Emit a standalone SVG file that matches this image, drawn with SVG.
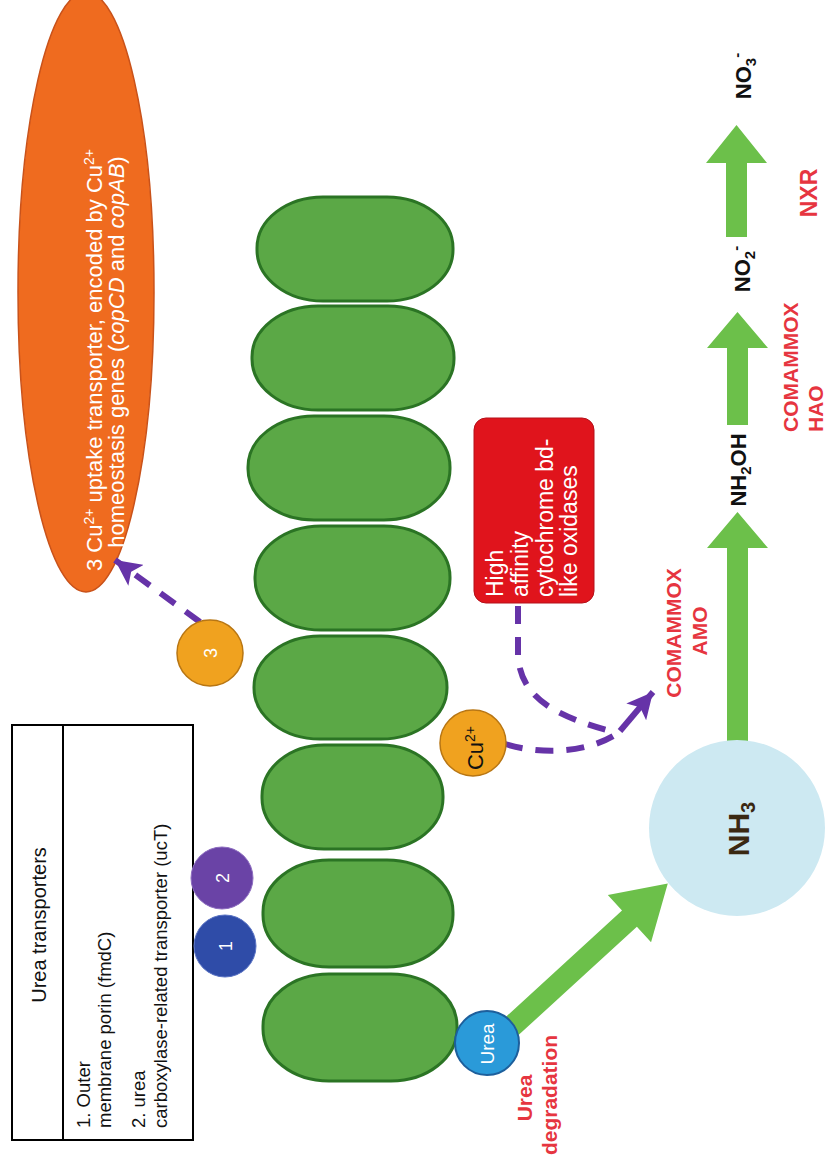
<svg xmlns="http://www.w3.org/2000/svg" width="827" height="1176" viewBox="0 0 827 1176">
<defs>
<style>
text{font-family:"Liberation Sans",Arial,sans-serif;}
.pill{fill:#5ba846;stroke:#2b7424;stroke-width:3;}
.garrow{fill:#6cc04a;}
.dash{fill:none;stroke:#6633a8;stroke-width:6;stroke-dasharray:18 13;}
.red{fill:#e63540;font-weight:bold;font-size:21px;}
.wt{fill:#ffffff;}
.blk{fill:#111111;}
</style>
<marker id="ph" viewBox="0 0 26 26" refX="26" refY="13" markerWidth="26" markerHeight="26" orient="auto" markerUnits="userSpaceOnUse">
<path d="M0,0 L26,13 L0,26 L6,13 z" fill="#6633a8"/>
</marker>
</defs>
<rect width="827" height="1176" fill="#ffffff"/>

<g id="ellipse-cu-transporter">
<ellipse cx="86" cy="292" rx="68" ry="300" fill="#ef6b1f" stroke="#c9521a" stroke-width="1.5"/>
<text class="wt" font-size="22" text-anchor="middle" transform="translate(102,360) rotate(-90)">3 Cu<tspan dy="-8" font-size="14">2+</tspan><tspan dy="8">  uptake transporter, encoded by Cu</tspan><tspan dy="-8" font-size="14">2+</tspan></text>
<text class="wt" font-size="22" text-anchor="middle" transform="translate(124,352) rotate(-90)">homeostasis genes (<tspan font-style="italic">copCD</tspan> and <tspan font-style="italic">copAB</tspan>)</text>
</g>

<g id="table-urea-transporters">
<rect x="12" y="725" width="181" height="415" fill="#ffffff" stroke="#000000" stroke-width="2"/>
<line x1="63" y1="725" x2="63" y2="1140" stroke="#000000" stroke-width="2"/>
<text class="blk" font-size="20" text-anchor="middle" transform="translate(46,925) rotate(-90)">Urea transporters</text>
<text class="blk" font-size="18.5" transform="translate(90,1128) rotate(-90)">1. Outer</text>
<text class="blk" font-size="18.5" transform="translate(111,1128) rotate(-90)">membrane porin (fmdC)</text>
<text class="blk" font-size="18.5" transform="translate(145,1128) rotate(-90)">2. urea</text>
<text class="blk" font-size="18.5" transform="translate(167,1128) rotate(-90)">carboxylase-related transporter (ucT)</text>
</g>

<g id="membrane">
<rect class="pill" x="257" y="197" width="196" height="104" rx="66" ry="51"/>
<rect class="pill" x="252" y="306" width="202" height="104" rx="66" ry="51"/>
<rect class="pill" x="248" y="416" width="202" height="104" rx="66" ry="51"/>
<rect class="pill" x="255" y="526" width="195" height="104" rx="66" ry="51"/>
<rect class="pill" x="254" y="636" width="193" height="103" rx="66" ry="51"/>
<rect class="pill" x="262" y="745" width="181" height="104" rx="62" ry="51"/>
<rect class="pill" x="263" y="860" width="190" height="107" rx="66" ry="52"/>
<rect class="pill" x="263" y="974" width="194" height="107" rx="66" ry="52"/>
</g>

<g id="connectors">
<path class="dash" d="M200,622 L115,560" marker-end="url(#ph)"/>
<path class="dash" d="M518,606 L518,655 C520,700 560,718 618,733"/>
<path class="dash" d="M505,744 C545,756 590,752 618,733"/>
<path d="M620,731 L653,692" stroke="#6633a8" stroke-width="6" fill="none" marker-end="url(#ph)"/>
<polygon class="garrow" transform="translate(510,1028) rotate(-42.5)" points="0,-11 162,-11 162,-32 214,0 162,32 162,11 0,11"/>
<polygon class="garrow" points="727,745 727,548 707,548 737.5,512 768,548 748,548 748,745"/>
<polygon class="garrow" points="727,425 727,348 707,348 737.5,312 768,348 748,348 748,425"/>
<polygon class="garrow" points="726,237 726,163 706,163 736.5,125 767,163 747,163 747,237"/>
</g>

<g id="circle-1">
<circle cx="225" cy="946" r="31" fill="#2f4ca8" stroke="#5b74c4" stroke-width="1"/>
<text class="wt" font-size="18" text-anchor="middle" transform="translate(231.5,946) rotate(-90)">1</text>
</g>
<g id="circle-2">
<circle cx="222" cy="878" r="31" fill="#6a43a6" stroke="#8e6ec0" stroke-width="1"/>
<text class="wt" font-size="18" text-anchor="middle" transform="translate(228.5,878) rotate(-90)">2</text>
</g>
<g id="circle-3">
<circle cx="210" cy="653" r="33" fill="#f0a21f" stroke="#b87613" stroke-width="1.5"/>
<text class="wt" font-size="18" text-anchor="middle" transform="translate(216.5,653) rotate(-90)">3</text>
</g>
<g id="circle-cu">
<circle cx="473" cy="743" r="33" fill="#f0a21f" stroke="#b87613" stroke-width="1.5"/>
<text class="blk" font-size="22" text-anchor="middle" transform="translate(483,748) rotate(-90)">Cu<tspan dy="-8" font-size="14">2+</tspan></text>
</g>
<g id="circle-urea">
<circle cx="487" cy="1043" r="32" fill="#2a9ad9" stroke="#1d5f9c" stroke-width="2"/>
<text class="wt" font-size="19" text-anchor="middle" transform="translate(494,1044) rotate(-90)">Urea</text>
</g>

<g id="label-urea-degradation">
<text class="red" text-anchor="middle" transform="translate(532,1098) rotate(-90)">Urea</text>
<text class="red" text-anchor="middle" transform="translate(557,1095) rotate(-90)">degradation</text>
</g>

<g id="box-oxidases">
<rect x="474" y="418" width="120" height="185" rx="12" ry="12" fill="#e0141c" stroke="#b5101a" stroke-width="1"/>
<text class="wt" font-size="23" transform="translate(503,597) rotate(-90)">High</text>
<text class="wt" font-size="23" transform="translate(528,597) rotate(-90)">affinity</text>
<text class="wt" font-size="23" transform="translate(553,597) rotate(-90)">cytochrome bd-</text>
<text class="wt" font-size="23" transform="translate(577,597) rotate(-90)">like oxidases</text>
</g>

<g id="label-amo">
<text class="red" text-anchor="middle" transform="translate(681,633) rotate(-90)">COMAMMOX</text>
<text class="red" text-anchor="middle" transform="translate(707,631) rotate(-90)">AMO</text>
</g>

<g id="node-nh3">
<circle cx="737" cy="828" r="88" fill="#cde9f2"/>
<text font-size="30" font-weight="bold" fill="#3a2812" text-anchor="middle" transform="translate(749,829) rotate(-90)">NH<tspan dy="6" font-size="20">3</tspan></text>
</g>

<g id="node-nh2oh">
<text class="blk" font-size="22" font-weight="bold" text-anchor="middle" transform="translate(746,470) rotate(-90)">NH<tspan dy="5" font-size="15">2</tspan><tspan dy="-5">OH</tspan></text>
</g>

<g id="label-hao">
<text class="red" transform="translate(798,432) rotate(-90)">COMAMMOX</text>
<text class="red" transform="translate(823,432) rotate(-90)">HAO</text>
</g>

<g id="node-no2">
<text class="blk" font-size="22" font-weight="bold" text-anchor="middle" transform="translate(750,269) rotate(-90)">NO<tspan dy="5" font-size="15">2</tspan><tspan dy="-14" font-size="15">-</tspan></text>
</g>

<g id="label-nxr">
<text class="red" text-anchor="middle" transform="translate(817,193) rotate(-90)" style="font-size:23px">NXR</text>
</g>

<g id="node-no3">
<text class="blk" font-size="22" font-weight="bold" text-anchor="middle" transform="translate(751,76) rotate(-90)">NO<tspan dy="5" font-size="15">3</tspan><tspan dy="-14" font-size="15">-</tspan></text>
</g>
</svg>
